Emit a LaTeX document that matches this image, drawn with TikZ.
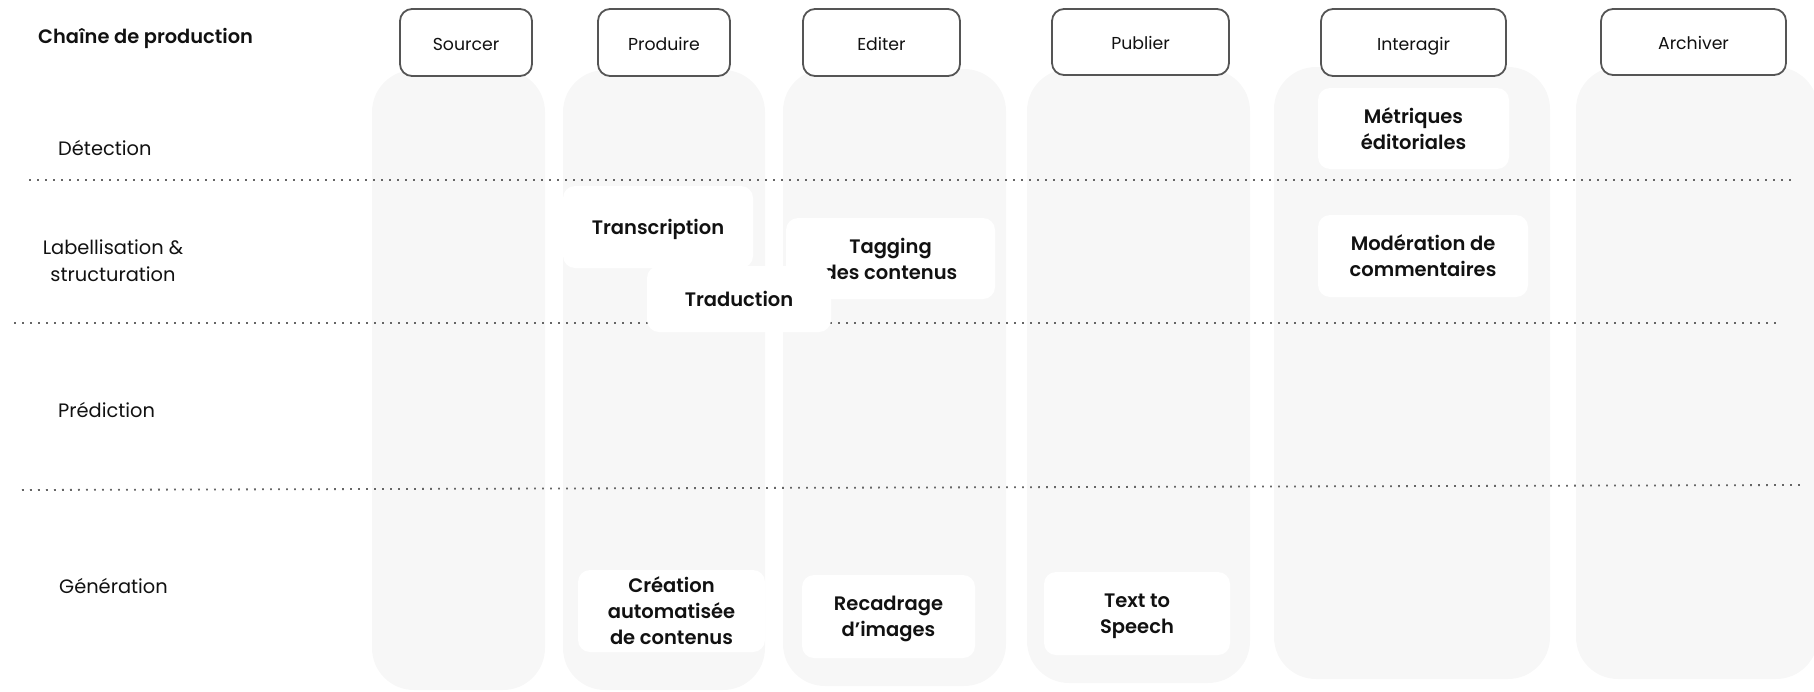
\documentclass[tikz,border=0pt]{standalone}
\usepackage{fontspec}
\IfFontExistsTF{Poppins SemiBold}{\setmainfont{Poppins}[BoldFont={Poppins SemiBold}]}{\setmainfont{Poppins}}
\definecolor{colbg}{HTML}{F7F7F7}
\definecolor{edge}{HTML}{555555}
\definecolor{ink}{HTML}{111111}
\definecolor{dots}{HTML}{666666}
\begin{document}
\begin{tikzpicture}[x=1pt,y=-1pt,
  lane/.style={fill=colbg, rounded corners=42pt},
  stage/.style={draw=edge, line width=1.8pt, fill=white, rounded corners=12pt, font=\fontsize{17.3}{19}\selectfont, text=ink, inner sep=0pt, text height=15pt, text depth=0pt},
  task/.style={fill=white, rounded corners=12pt, font=\bfseries\fontsize{19.5}{26}\selectfont, align=center, text=ink, inner sep=0pt, text depth=0pt},
  rowlabel/.style={font=\fontsize{19.4}{27}\selectfont, text=ink, inner sep=0pt},
  sep/.style={draw=dots, line width=1.8pt, dash pattern=on 1.8pt off 6.2pt}
]
\useasboundingbox (0,0) rectangle (1814,691);
% lanes
\fill[lane] (372,70) rectangle (545,690);
\fill[lane] (563,70) rectangle (765,690);
\fill[lane] (783,69) rectangle (1006,686);
\fill[lane] (1027,69) rectangle (1250,683);
\fill[lane] (1274,67) rectangle (1550,679);
\fill[lane] (1576,67) rectangle (1818,679);
% stages
\node[stage, minimum width=132pt, minimum height=67pt] (sourcer) at (466,42.5) {Sourcer};
\node[stage, minimum width=132pt, minimum height=67pt] (produire) at (664,42.5) {Produire};
\node[stage, minimum width=157pt, minimum height=67pt] (editer) at (881.5,42.5) {Editer};
\node[stage, minimum width=177pt, minimum height=66pt] (publier) at (1140.5,42) {Publier};
\node[stage, minimum width=185pt, minimum height=67pt] (interagir) at (1413.5,42.5) {Interagir};
\node[stage, minimum width=185pt, minimum height=66pt] (archiver) at (1693.5,42) {Archiver};
% row labels
\node[rowlabel, font=\bfseries\fontsize{19.4}{25}\selectfont, anchor=west] (chaine) at (38,38) {Chaîne de production};
\node[rowlabel, anchor=west] (detection) at (58,148) {Détection};
\node[rowlabel, align=center] (labellisation) at (113,261) {Labellisation \&\\structuration};
\node[rowlabel, anchor=west] (prediction) at (58,410) {Prédiction};
\node[rowlabel, anchor=west] (generation) at (59,586) {Génération};
% separators
\draw[sep] (29,180) -- (1793,180);
\draw[sep] (14,323) -- (1776,323);
\draw[sep] (22,490) -- (1800,485);
% tasks
\node[task, minimum width=191pt, minimum height=81pt] (metriques) at (1413.5,128.5) {Métriques\\éditoriales};
\node[task, minimum width=210pt, minimum height=82pt] (moderation) at (1423,256) {Modération de\\commentaires};
\node[task, minimum width=190pt, minimum height=82pt] (transcription) at (658,227) {Transcription};
\node[task, minimum width=209pt, minimum height=81pt] (tagging) at (890.5,258.5) {Tagging\\des contenus};
\node[task, minimum width=184pt, minimum height=66pt] (traduction) at (739,299) {Traduction};
\node[task, minimum width=187pt, minimum height=82pt] (creation) at (671.5,611) {Création\\automatisée\\de contenus};
\node[task, minimum width=173pt, minimum height=83pt] (recadrage) at (888.5,616.5) {Recadrage\\d’images};
\node[task, minimum width=186pt, minimum height=83pt] (tts) at (1137,613.5) {Text to\\Speech};
\end{tikzpicture}
\end{document}
